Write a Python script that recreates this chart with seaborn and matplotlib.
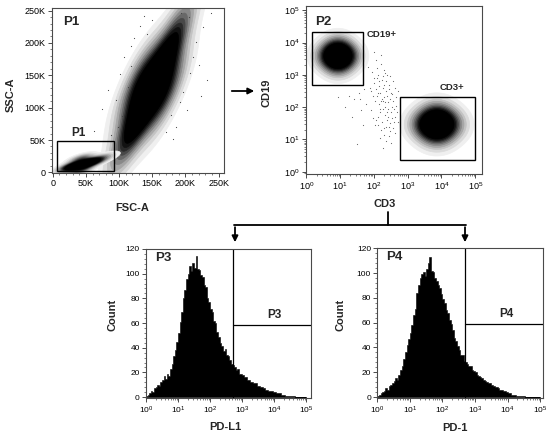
import numpy as np
import seaborn as sns
import matplotlib.pyplot as plt
from matplotlib.colors import ListedColormap
from matplotlib.patches import Rectangle, FancyArrowPatch
from matplotlib.lines import Line2D
from matplotlib.ticker import MultipleLocator, FixedLocator, LogLocator, NullFormatter, FuncFormatter

sns.set_theme(style="ticks")
plt.rcParams['font.family'] = ['Liberation Sans', 'DejaVu Sans']

# ---- P1: FSC-A vs SSC-A (values in thousands), population centres
cloud_fsc = [108, 125, 148, 171, 192, 128, 168]
cloud_ssc = [45, 78, 130, 182, 232, 139, 121]
cloud_w = [0.4, 1.2, 2.0, 1.2, 0.5, 1.2, 1.2]
lymph_fsc = [22, 35, 48, 62, 80, 42, 42]
lymph_ssc = [8, 11, 14, 18, 25, 4, 22]
lymph_w = [1.0, 2.0, 2.2, 1.5, 0.4, 1.0, 1.0]
stray_fsc = [62, 74, 83, 88, 96, 101, 104, 108, 113, 118, 122, 131, 137, 150, 171, 178, 186, 191,
             197, 203, 207, 212, 216, 221, 227, 232, 238, 98, 93, 118, 142, 205, 224, 193, 181]
stray_ssc = [64, 98, 127, 58, 112, 152, 87, 178, 132, 196, 208, 226, 241, 236, 62, 88, 70, 108,
             124, 96, 154, 178, 201, 166, 224, 142, 246, 70, 45, 165, 214, 240, 118, 246, 52]
p1_gate = [7, 93, 2, 48]          # FSC from, to, SSC from, to (K)

# ---- P2: CD3 vs CD19 (log10 units)
cd19_x = [0.92, 0.62, 1.22, 0.92, 0.92]
cd19_y = [3.6, 3.6, 3.6, 3.32, 3.88]
cd19_w = [2, 1, 1, 1, 1]
cd3_x = [3.85, 3.49, 4.21, 3.85, 3.85]
cd3_y = [1.48, 1.48, 1.48, 1.16, 1.8]
cd3_w = [2, 1, 1, 1, 1]
mid_x = [1.88, 1.95, 2.02, 2.08, 2.12, 2.18, 2.22, 2.27, 2.31, 2.36, 2.41, 2.45, 2.5, 2.55, 2.6, 2.66,
         1.92, 2.0, 2.05, 2.15, 2.2, 2.25, 2.3, 2.34, 2.38, 2.44, 2.48, 2.53, 2.58, 2.63,
         1.97, 2.1, 2.14, 2.24, 2.28, 2.33, 2.4, 2.47, 2.52, 2.57,
         2.06, 2.19, 2.29, 2.37, 2.43, 2.21, 2.35, 2.46, 2.12, 2.26,
         1.25, 1.4, 1.55, 1.62, 1.72, 1.35, 1.5, 1.78, 0.95, 2.7,
         2.03, 2.09, 2.16, 2.23, 2.29, 2.32, 2.39, 2.42, 2.49, 2.56, 2.61, 2.68, 1.9, 1.98,
         2.07, 2.13, 2.17, 2.26, 2.34, 2.44, 2.51, 2.59, 2.64, 2.72, 1.84, 2.01, 2.11, 2.2,
         2.3, 2.39, 2.47, 2.54, 2.62, 2.18, 2.27, 2.36, 1.15, 1.6, 1.68, 2.0]
mid_y = [2.6, 3.1, 2.2, 2.9, 1.7, 2.45, 3.35, 1.95, 2.7, 1.4, 2.15, 1.1, 1.85, 2.4, 1.55, 2.05,
         1.9, 2.75, 3.45, 2.1, 1.3, 2.85, 2.3, 1.75, 3.0, 2.55, 1.25, 2.0, 2.8, 1.7,
         2.35, 3.2, 2.65, 1.55, 2.95, 2.0, 1.6, 2.25, 0.9, 1.35,
         1.6, 1.95, 1.15, 2.5, 1.95, 3.6, 0.95, 2.7, 2.45, 2.2,
         2.35, 2.25, 2.45, 1.9, 2.55, 1.7, 0.85, 2.1, 2.3, 2.5,
         1.45, 2.35, 2.8, 2.25, 1.35, 3.05, 2.35, 1.7, 1.5, 2.2, 1.2, 1.85, 2.5, 1.65,
         2.55, 3.0, 1.85, 2.6, 2.15, 1.4, 2.45, 1.95, 2.3, 1.55, 3.25, 2.9, 1.45, 2.2,
         3.15, 1.85, 2.95, 1.65, 2.6, 1.05, 0.75, 2.8, 2.0, 2.25, 1.45, 3.7]
cd19_gate = [0.17, 1.67, 2.68, 4.33]
cd3_gate = [2.76, 4.98, 0.36, 2.30]

# ---- P3 / P4 histograms: counts per 0.05-decade bin, 10^0 .. 10^5
p3_counts = [1, 2, 3, 5, 4, 7, 8, 10, 9, 12,
             14, 17, 15, 19, 17, 23, 27, 33, 38, 45,
             52, 61, 69, 80, 87, 96, 100, 106, 102, 109,
             105, 114, 104, 103, 99, 97, 91, 89, 80, 77,
             71, 69, 62, 60, 53, 49, 44, 41, 37, 39,
             34, 33, 30, 27, 26, 24, 22, 23, 19, 19,
             18, 16, 16, 14, 14, 12, 12, 11, 11, 9,
             9, 8, 8, 7, 6, 6, 5, 5, 5, 4,
             4, 3, 3, 3, 2, 2, 2, 1, 1, 1,
             1, 0.5, 0.5, 0, 0, 0, 0, 0, 0, 0]
p4_counts = [1, 2, 3, 4, 5, 7, 6, 9, 10, 11,
             13, 15, 14, 18, 22, 25, 31, 36, 42, 47,
             52, 58, 66, 71, 84, 90, 96, 99, 101, 98,
             103, 108, 113, 102, 101, 96, 94, 90, 88, 83,
             79, 76, 70, 68, 62, 59, 54, 48, 45, 41,
             38, 34, 34, 29, 28, 27, 25, 25, 22, 21,
             20, 18, 17, 16, 15, 14, 13, 12, 11, 11,
             10, 9, 8, 8, 7, 6, 6, 5, 5, 4,
             3, 3, 2, 2, 2, 1, 1, 1, 1, 0.5,
             0.5, 0, 0, 0, 0, 0, 0, 0, 0, 0]
p3_gate = [2.71, 58.6]
p4_gate = [2.69, 58.6]

W, H = 550, 441
fig = plt.figure(figsize=(5.5, 4.41), dpi=100)


def px_axes(l, t, r, b):
    return fig.add_axes([l / W, 1 - b / H, (r - l) / W, (b - t) / H])


def px(x, y):
    return x / W, 1 - y / H


spine_col = '#4a4a4a'
shades = ['#efefef', '#dadada', '#c2c2c2', '#a6a6a6', '#888888', '#686868',
          '#484848', '#2a2a2a', '#121212', '#000000']
iso = [0.02, 0.05, 0.09, 0.13, 0.18, 0.23, 0.28, 0.33, 0.38, 0.44]


def density(ax, x, y, w, bw, log=False):
    # one filled kde layer per shade, outer to inner
    for q, c in zip(iso, shades):
        n0 = len(ax.collections)
        sns.kdeplot(x=x, y=y, weights=w, fill=True, levels=[q, 1.0], cmap=ListedColormap([c]),
                    bw_adjust=bw, log_scale=log, ax=ax)
        for coll in ax.collections[n0:]:
            coll.set_edgecolor(c)
            coll.set_linewidth(0.5)


def style_axes(ax, size):
    for s in ax.spines.values():
        s.set_color(spine_col)
        s.set_linewidth(0.8)
    ax.tick_params(which='both', direction='out', colors=spine_col, labelcolor='black',
                   labelsize=size, pad=1.5, top=False, right=False)
    ax.tick_params(which='major', length=3, width=0.7)
    ax.tick_params(which='minor', length=1.6, width=0.5)
    ax.set_xlabel('')
    ax.set_ylabel('')


def log_fmt(v, pos):
    return r'$\mathregular{10^{%d}}$' % round(np.log10(v))


def log_axis(axis):
    axis.set_major_locator(LogLocator(base=10, numticks=10))
    axis.set_minor_locator(LogLocator(base=10, subs=np.arange(2, 10), numticks=20))
    axis.set_major_formatter(FuncFormatter(log_fmt))
    axis.set_minor_formatter(NullFormatter())


# ---------------- P1
ax1 = px_axes(52, 8, 224, 173)
density(ax1, np.array(cloud_fsc) * 1e3, np.array(cloud_ssc) * 1e3, cloud_w, 1.2)
density(ax1, np.array(lymph_fsc) * 1e3, np.array(lymph_ssc) * 1e3, lymph_w, 1.1)
sns.scatterplot(x=np.array(stray_fsc) * 1e3, y=np.array(stray_ssc) * 1e3, s=0.7,
                color='#444444', edgecolor=None, linewidth=0, ax=ax1)
ax1.add_patch(Rectangle((p1_gate[0] * 1e3, p1_gate[2] * 1e3), (p1_gate[1] - p1_gate[0]) * 1e3,
                        (p1_gate[3] - p1_gate[2]) * 1e3, fill=False, ec='black', lw=1.0, zorder=5))
ax1.set_xlim(-1000, 258000)
ax1.set_ylim(-1000, 254000)
k_ticks = [0, 50000, 100000, 150000, 200000, 250000]
k_labels = ['0', '50K', '100K', '150K', '200K', '250K']
for axis in (ax1.xaxis, ax1.yaxis):
    axis.set_major_locator(FixedLocator(k_ticks))
    axis.set_major_formatter(FuncFormatter(lambda v, p: k_labels[p] if p is not None and p < 6 else ''))
    axis.set_minor_locator(MultipleLocator(10000))
style_axes(ax1, 6.5)
ax1.text(0.064, 0.915, 'P1', transform=ax1.transAxes, fontsize=9.5, fontweight='bold', va='center')
ax1.text(0.151, 0.245, 'P1', transform=ax1.transAxes, fontsize=8.5, fontweight='bold',
         va='center', ha='center')

# ---------------- P2
ax2 = px_axes(306, 6, 482, 174)
density(ax2, 10 ** np.array(cd19_x), 10 ** np.array(cd19_y), cd19_w, 1.8, log=True)
density(ax2, 10 ** np.array(cd3_x), 10 ** np.array(cd3_y), cd3_w, 1.8, log=True)
sns.scatterplot(x=10 ** np.array(mid_x), y=10 ** np.array(mid_y), s=0.7, color='#666666',
                edgecolor=None, linewidth=0, ax=ax2)
for g in (cd19_gate, cd3_gate):
    ax2.add_patch(Rectangle((10 ** g[0], 10 ** g[2]), 10 ** g[1] - 10 ** g[0], 10 ** g[3] - 10 ** g[2],
                            fill=False, ec='black', lw=1.0, zorder=5))
ax2.set_xscale('log')
ax2.set_yscale('log')
ax2.set_xlim(10 ** -0.01, 10 ** 5.2)
ax2.set_ylim(10 ** -0.07, 10 ** 5.13)
log_axis(ax2.xaxis)
log_axis(ax2.yaxis)
style_axes(ax2, 6.5)
ax2.text(0.051, 0.905, 'P2', transform=ax2.transAxes, fontsize=9.5, fontweight='bold', va='center')
ax2.text(0.345, 0.833, 'CD19+', transform=ax2.transAxes, fontsize=6.8, fontweight='bold', va='center')
ax2.text(0.757, 0.512, 'CD3+', transform=ax2.transAxes, fontsize=6.8, fontweight='bold', va='center')

# ---------------- P3 / P4 histograms
centers = np.arange(100) * 0.05 + 0.025
for (l, t, r, b), counts, gate, name, xmax in (
        ((146, 249, 310.7, 398.3), p3_counts, p3_gate, 'P3', 5.14),
        ((377.3, 248.3, 542.7, 398.3), p4_counts, p4_gate, 'P4', 5.08)):
    ax = px_axes(l, t, r, b)
    sns.histplot(x=10 ** centers, weights=counts, bins=100, binrange=(0, 5), log_scale=True,
                 element='step', fill=True, color='black', alpha=1, linewidth=0.4, ax=ax)
    ax.set_xlim(1, 10 ** xmax)
    ax.set_ylim(-1, 120)
    ax.plot([10 ** gate[0]] * 2, [0, 120], color='black', lw=0.9)
    ax.plot([10 ** gate[0], 10 ** xmax], [gate[1]] * 2, color='black', lw=0.9)
    log_axis(ax.xaxis)
    ax.yaxis.set_major_locator(MultipleLocator(20))
    ax.yaxis.set_minor_locator(MultipleLocator(4))
    style_axes(ax, 6)
    ax.text(0.056, 0.94, name, transform=ax.transAxes, fontsize=9.5, fontweight='bold', va='center')
    ax.text(0.78, 0.56, name, transform=ax.transAxes, fontsize=8.5, fontweight='bold',
            va='center', ha='center')

# ---------------- axis titles
lab = dict(fontsize=8, fontweight='bold', ha='center', va='center')
fig.text(*px(11, 95), 'SSC-A', rotation=90, **lab)
fig.text(*px(132, 208), 'FSC-A', **lab)
fig.text(*px(267, 93), 'CD19', rotation=90, **lab)
fig.text(*px(385, 204), 'CD3', **lab)
fig.text(*px(113, 315), 'Count', rotation=90, **lab)
fig.text(*px(225, 427), 'PD-L1', **lab)
fig.text(*px(341, 315), 'Count', rotation=90, **lab)
fig.text(*px(455, 428), 'PD-1', **lab)

# ---------------- connecting arrows
arr = dict(arrowstyle='-|>', mutation_scale=9, lw=1.3, color='black', transform=fig.transFigure)
fig.add_artist(FancyArrowPatch(px(229, 91), px(257, 91), **arr))
fig.add_artist(Line2D(*zip(px(388, 212), px(388, 225)), lw=1.3, color='black'))
fig.add_artist(Line2D(*zip(px(234, 225), px(466, 225)), lw=1.3, color='black'))
fig.add_artist(FancyArrowPatch(px(235, 224.4), px(235, 245), **arr))
fig.add_artist(FancyArrowPatch(px(465, 224.4), px(465, 245), **arr))

fig.savefig('out.png', dpi=100)
